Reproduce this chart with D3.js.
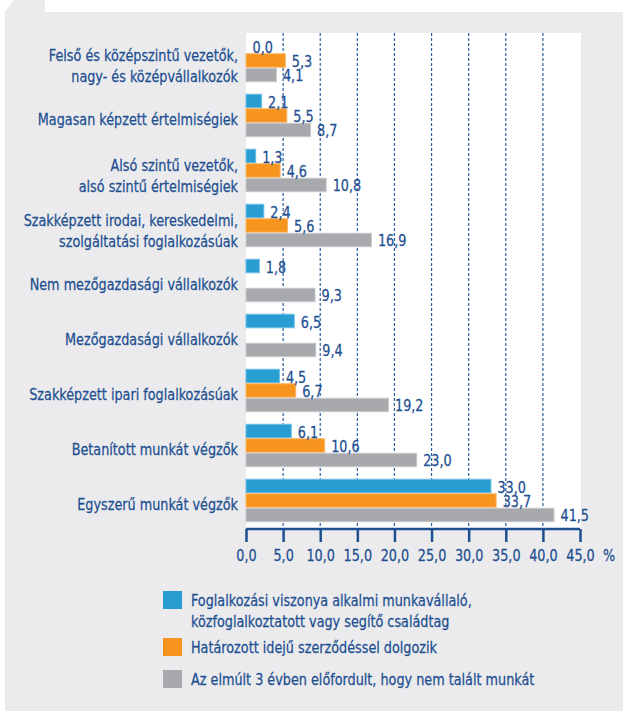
<!DOCTYPE html>
<html>
<head>
<meta charset="utf-8">
<script src="https://cdn.jsdelivr.net/npm/d3@7"></script>
<style>
  body { margin: 0; background: #ffffff; }
  svg text { font-family: "Liberation Sans Narrow", "DejaVu Sans Condensed", "Roboto", sans-serif; }
</style>
</head>
<body>
<div id="chart"></div>
<script>
// Categories (top to bottom)
var categories = [
  "Felső és középszintű vezetők,\nnagy- és középvállalkozók",
  "Magasan képzett értelmiségiek",
  "Alsó szintű vezetők,\nalsó szintű értelmiségiek",
  "Szakképzett irodai, kereskedelmi,\nszolgáltatási foglalkozásúak",
  "Nem mezőgazdasági vállalkozók",
  "Mezőgazdasági vállalkozók",
  "Szakképzett ipari foglalkozásúak",
  "Betanított munkát végzők",
  "Egyszerű munkát végzők"
];

// Series values (%)
var alkalmi = [0.0, 2.1, 1.3, 2.4, 1.8, 6.5, 4.5, 6.1, 33.0];
var hatarozott = [5.3, 5.5, 4.6, 5.6, null, null, 6.7, 10.6, 33.7];
var nemtalalt = [4.1, 8.7, 10.8, 16.9, 9.3, 9.4, 19.2, 23.0, 41.5];

var seriesNames = [
  "Foglalkozási viszonya alkalmi munkavállaló,\nközfoglalkoztatott vagy segítő családtag",
  "Határozott idejű szerződéssel dolgozik",
  "Az elmúlt 3 évben előfordult, hogy nem talált munkát"
];

// x ticks
var xTicks = [0, 5, 10, 15, 20, 25, 30, 35, 40, 45];

var series = [alkalmi, hatarozott, nemtalalt];
var colors = ["#289dd2", "#f7941e", "#a7a9ac"];
var strokes = ["#6cbde6", "#fbb767", "#c9cacc"];
var navy = "#1d4f91";
var squeeze = 0.89;   // the original uses a condensed face

var svg_width = 623, svg_height = 711;

var svg = d3.select("#chart").append("svg")
  .attr("width", svg_width)
  .attr("height", svg_height);

// grey panel with tab at top-left
svg.append("path")
  .attr("d", "M5,12 L14,0 L45,0 L45,12 L623,12 L623,711 L5,711 Z")
  .attr("fill", "#ebebed");

// white plot area
var plot = { left: 246, right: 580, top: 33, bottom: 529 };

svg.append("rect")
  .attr("x", plot.left)
  .attr("y", plot.top)
  .attr("width", plot.right - plot.left + 1)
  .attr("height", plot.bottom - plot.top)
  .attr("fill", "#ffffff");

// scales
var x = d3.scaleLinear().domain([0, 45]).range([plot.left, plot.right]);

var y = d3.scaleBand()
  .domain(d3.range(categories.length))
  .range([plot.top, plot.top + 495])
  .paddingInner(0.21)
  .paddingOuter(0.105);

var ySub = d3.scaleBand()
  .domain([0, 1, 2])
  .range([0, y.bandwidth()]);

var locale = d3.formatLocale({ decimal: ",", thousands: " ", grouping: [3], currency: ["", ""] });
var fmt = locale.format(".1f");

// condensed text helper: text sits at (tx, ty), squeezed horizontally
function addText(parent, tx, ty, str, anchor) {
  var t = parent.append("text")
    .attr("transform", `translate(${tx}, ${ty}) scale(${squeeze}, 1)`)
    .attr("text-anchor", anchor || "start")
    .attr("font-size", "16px")
    .attr("fill", navy)
    .attr("stroke", navy)
    .attr("stroke-width", 0.25);
  str.split("\n").forEach(function(line, li) {
    t.append("tspan")
      .attr("x", 0)
      .attr("y", li * 21.5)
      .text(line);
  });
  return t;
}

// dotted gridlines
svg.append("g")
  .selectAll("line")
  .data(xTicks.filter(d => d > 0 && d < 45))
  .enter()
  .append("line")
  .attr("x1", d => x(d))
  .attr("x2", d => x(d))
  .attr("y1", plot.top)
  .attr("y2", plot.bottom)
  .attr("stroke", "#2b5d9c")
  .attr("stroke-width", 1.2)
  .attr("stroke-dasharray", "3,2");

// bars
series.forEach(function(vals, si) {
  var rows = vals.map((v, i) => ({ i: i, v: v })).filter(d => d.v !== null && d.v > 0);

  svg.append("g")
    .selectAll("rect")
    .data(rows)
    .enter()
    .append("rect")
    .attr("x", x(0))
    .attr("y", d => y(d.i) + ySub(si) + 0.5)
    .attr("width", d => x(d.v) - x(0))
    .attr("height", ySub.bandwidth() - 1)
    .attr("fill", colors[si])
    .attr("stroke", strokes[si])
    .attr("stroke-width", 1);
});

// value labels (after bars so they sit on top)
var valueLabels = svg.append("g");
series.forEach(function(vals, si) {
  vals.forEach(function(v, i) {
    if (v === null) return;
    addText(valueLabels, x(v) + 6.5, y(i) + ySub(si) + ySub.bandwidth() / 2 + 6.5, fmt(v));
  });
});

// category labels
var catLabels = svg.append("g");
categories.forEach(function(c, i) {
  var cy = y(i) + y.bandwidth() / 2;
  var twoLines = c.indexOf("\n") >= 0;
  addText(catLabels, 238, twoLines ? cy : cy + 9, c, "end");
});

// x axis
var axis = d3.axisBottom(x)
  .tickValues(xTicks)
  .tickSize(13)
  .tickFormat(fmt);

var x_axis = svg.append("g")
  .attr("transform", `translate(0, ${plot.bottom})`)
  .call(axis);

x_axis.select(".domain")
  .attr("d", `M${plot.left},0H${plot.right}`)
  .attr("stroke", navy)
  .attr("stroke-width", 2.5);

x_axis.selectAll(".tick line")
  .attr("stroke", navy)
  .attr("stroke-width", 2.5);

x_axis.selectAll(".tick text")
  .attr("fill", navy)
  .attr("stroke", navy)
  .attr("stroke-width", 0.25)
  .attr("font-size", "16px")
  .attr("font-family", null)
  .attr("dy", null)
  .attr("y", 0)
  .attr("transform", `translate(0, 32) scale(${squeeze}, 1)`);

addText(svg, 609, plot.bottom + 32, "%", "middle");

// legend
var legendTops = [591, 638, 670];

var legend = svg.append("g");
seriesNames.forEach(function(name, i) {
  legend.append("rect")
    .attr("x", 163)
    .attr("y", legendTops[i])
    .attr("width", 19)
    .attr("height", 18)
    .attr("fill", colors[i]);

  addText(legend, 191, legendTops[i] + 15, name);
});
</script>
</body>
</html>
